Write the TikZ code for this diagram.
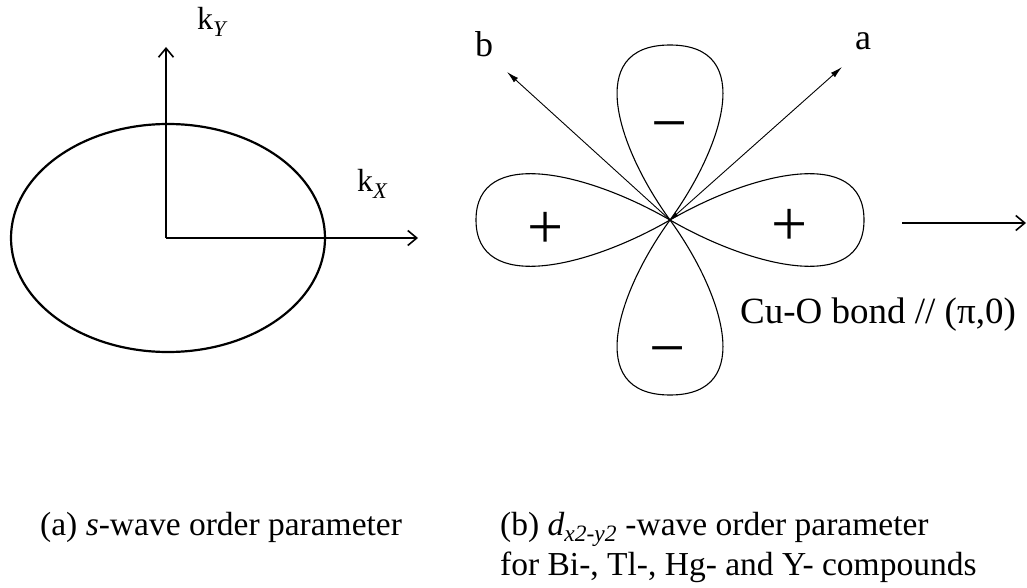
\documentclass[tikz,border=0pt]{standalone}
\usepackage{fontspec}
\setmainfont{Liberation Serif}
\usetikzlibrary{arrows.meta}

\begin{document}
\begin{tikzpicture}[x=1pt,y=-1pt,
    axis/.style={line width=2pt,-{Straight Barb[length=9pt,width=15pt,line width=1.6pt]}},
    lobe/.style={line width=1.1pt},
    dirarrow/.style={line width=0.9pt},
    sign/.style={font=\fontsize{64}{64}\selectfont, inner sep=0pt, anchor=base},
    axlabel/.style={font=\fontsize{32}{34}\selectfont, inner sep=0pt, anchor=base west},
    caption/.style={font=\fontsize{33.5}{36}\selectfont, inner sep=0pt, anchor=base west}]
        \useasboundingbox (0,0) rectangle (1027,588);

        % (a) s-wave: isotropic gap
        \draw[line width=2.2pt] (168,238) ellipse [x radius=157, y radius=114];
        \coordinate (ko) at (166,238);
        \coordinate (kytip) at (166,47);
        \coordinate (kxtip) at (418,238);
        \draw[axis] (ko) -- (kytip);
        \draw[axis] (ko) -- (kxtip);
        \node[axlabel] (ky) at (197,30) {k\textsubscript{\textit{Y}}};
        \node[axlabel] (kx) at (357,192) {k\textsubscript{\textit{X}}};

        % (b) d-wave: four lobes
        \coordinate (dc) at (670,220);
        \begin{scope}[shift={(dc)}]
            \foreach \ang/\len/\dir/\lift in {0/194/30/0.38, 180/194/30/0.38, 90/175/36/0.5, 270/175/36/0.5}
                \draw[lobe, rotate=\ang] (0,0) .. controls (\dir:0.5*\len) and (\len,\lift*\len) .. (\len,0)
                    .. controls (\len,-\lift*\len) and (-\dir:0.5*\len) .. (0,0);
        \end{scope}
        \node[sign] (pl) at (546,248) {+};
        \node[sign] (pr) at (790,245) {+};
        \node[sign] (mt) at (670,145) {−};
        \node[sign] (mb) at (668,369) {−};

        % crystal axes a and b
        \coordinate (atip) at (842,67);
        \coordinate (btip) at (507,72);
        \draw[dirarrow, {Latex[length=9pt,width=5pt]}-{Latex[length=12pt,width=6pt]}] (dc) -- (atip);
        \draw[dirarrow, -{Latex[length=12pt,width=6pt]}] (dc) -- (btip);
        \node[font=\fontsize{36}{38}\selectfont, inner sep=0pt, anchor=base west] (alab) at (855,50) {a};
        \node[font=\fontsize{36}{38}\selectfont, inner sep=0pt, anchor=base west] (blab) at (475,57) {b};

        % bond direction
        \coordinate (bs) at (902,223);
        \coordinate (be) at (1026,223);
        \draw[axis] (bs) -- (be);
        \node[font=\fontsize{37}{40}\selectfont, inner sep=0pt, anchor=base west] (bond) at (740,323) {Cu-O bond // (π,0)};

        % captions
        \node[caption] (capa) at (40,535) {(a) \textit{s}-wave order parameter};
        \node[caption] (capb) at (500,535) {(b) \textit{d}\textsubscript{\textit{x2-y2}} -wave order parameter};
        \node[caption] (capc) at (500,575) {for Bi-, Tl-, Hg- and Y- compounds};
    \end{tikzpicture}
\end{document}
